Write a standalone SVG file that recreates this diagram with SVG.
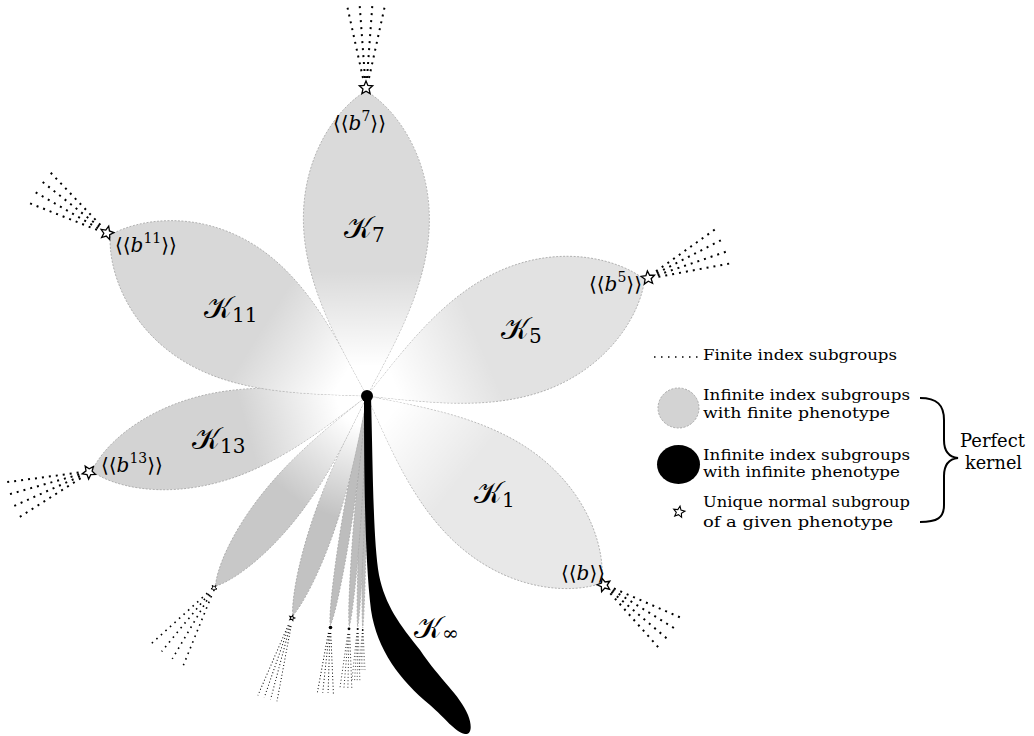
<svg xmlns="http://www.w3.org/2000/svg" width="1034" height="736" viewBox="0 0 1034 736">
<style>
.petal{stroke:#a8a8a8;stroke-width:0.8;stroke-dasharray:2 1.5}
.fade{fill:url(#fade)}
.dots{fill:none;stroke:#000;stroke-width:2;stroke-dasharray:2 5}
.fdots{fill:none;stroke:#000;stroke-width:1;stroke-dasharray:1 2.3}
.star{fill:#fff;stroke:#000;stroke-width:1.3;stroke-linejoin:miter}
.K{font-family:"DejaVu Serif","DejaVu Sans",serif;font-size:30px;fill:#000}
.sub{font-family:"DejaVu Serif",serif;font-size:20px}
.lab{font-family:"DejaVu Serif","DejaVu Sans",serif;font-size:20px;fill:#000}
.leg{font-family:"DejaVu Serif",serif;font-size:14.5px;fill:#000}
.big{font-family:"DejaVu Serif",serif;font-size:19px;fill:#000}
</style>
<defs>
<linearGradient id="fade" gradientUnits="userSpaceOnUse" x1="30" y1="0" x2="125" y2="0">
<stop offset="0" stop-color="#fff" stop-opacity="1"/>
<stop offset="1" stop-color="#fff" stop-opacity="0"/>
</linearGradient>
<path id="starp" d="M0,-7 L1.88,-2.59 L6.66,-2.16 L3.04,0.99 L4.11,5.66 L0,3.2 L-4.11,5.66 L-3.04,0.99 L-6.66,-2.16 L-1.88,-2.59 Z"/>
</defs>

<g id="fans">
<path class="dots" transform="translate(366,88) rotate(-90)" d="M10,-3 L85,-19.5 M10,-1 L85,-6.5 M10,1 L85,6.5 M10,3 L85,19.5"/>
<path class="dots" transform="translate(107,233) rotate(-146)" d="M10,-3 L85,-19.5 M10,-1 L85,-6.5 M10,1 L85,6.5 M10,3 L85,19.5"/>
<path class="dots" transform="translate(89,472) rotate(160)" d="M10,-3 L85,-19.5 M10,-1 L85,-6.5 M10,1 L85,6.5 M10,3 L85,19.5"/>
<path class="dots" transform="translate(648,278) rotate(-23)" d="M10,-3 L85,-19.5 M10,-1 L85,-6.5 M10,1 L85,6.5 M10,3 L85,19.5"/>
<path class="dots" transform="translate(604,585) rotate(36)" d="M10,-3 L85,-19.5 M10,-1 L85,-6.5 M10,1 L85,6.5 M10,3 L85,19.5"/>
<path class="dots" style="stroke-width:1.6;stroke-dasharray:1.6 4.5" transform="translate(214,588) rotate(125)" d="M8,-2.5 L82,-19.5 M8,-0.8 L82,-6.5 M8,0.8 L82,6.5 M8,2.5 L82,19.5"/>
<path class="fdots" transform="translate(292,618) rotate(107)" d="M8,-1.5 L84,-10 M8,-0.5 L84,-3.3 M8,0.5 L84,3.3 M8,1.5 L84,10"/>
<path class="fdots" transform="translate(330,627) rotate(94)" d="M6,-1.2 L66,-8 M6,-0.4 L66,-2.7 M6,0.4 L66,2.7 M6,1.2 L66,8"/>
<path class="fdots" style="stroke-width:0.8" transform="translate(349,629) rotate(93)" d="M5,-1 L60,-6 M5,-0.3 L60,-2 M5,0.3 L60,2 M5,1 L60,6"/>
<path class="fdots" style="stroke-width:0.7" transform="translate(357.7,629) rotate(92)" d="M4,-0.7 L52,-4 M4,-0.2 L52,-1.3 M4,0.2 L52,1.3 M4,0.7 L52,4"/>
<path class="fdots" style="stroke-width:0.6" transform="translate(362.7,630) rotate(91)" d="M3,-0.5 L40,-3 M3,-0.2 L40,-1 M3,0.2 L40,1 M3,0.5 L40,3"/>
</g>

<g id="slivers" transform="translate(367,396)">
<g transform="rotate(91.05)"><path class="petal" fill="#bdbdbd" d="M0,0 C37.1,0.7 83.5,1.8 134.6,1.8 C185.6,1.8 225,1 232,0 C225,-1 185.6,-1.8 134.6,-1.8 C83.5,-1.8 37.1,-0.7 0,0Z"/></g>
<g transform="rotate(92.3)"><path class="petal" fill="#bdbdbd" d="M0,0 C37,1 83.2,2.5 134,2.5 C184.8,2.5 224.1,1.4 231,0 C224.1,-1.4 184.8,-2.5 134,-2.5 C83.2,-2.5 37,-1 0,0Z"/></g>
<g transform="rotate(94.4)"><path class="petal" fill="#bdbdbd" d="M0,0 C37,1.4 83.2,3.5 134,3.5 C184.8,3.5 224.1,1.9 231,0 C224.1,-1.9 184.8,-3.5 134,-3.5 C83.2,-3.5 37,-1.4 0,0Z"/></g>
<g transform="rotate(99.1)"><path class="petal" fill="#bdbdbd" d="M0,0 C37.1,2 83.5,5 134.6,5 C185.6,5 225,2.75 232,0 C225,-2.75 185.6,-5 134.6,-5 C83.5,-5 37.1,-2 0,0Z"/></g>
</g>

<g id="petal7" transform="translate(367,396) rotate(108.67)">
<path class="petal" fill="#c2c2c2" d="M0,0 C37.1,4.8 83.5,12 134.6,12 C185.6,12 220.4,5 232,0 C220.4,-5 185.6,-12 134.6,-12 C83.5,-12 37.1,-4.8 0,0Z"/>
<path class="fade" d="M0,0 C37.1,4.8 83.5,12 134.6,12 C185.6,12 220.4,5 232,0 C220.4,-5 185.6,-12 134.6,-12 C83.5,-12 37.1,-4.8 0,0Z"/>
</g>

<g id="petal6" transform="translate(367,396) rotate(128.55)">
<path class="petal" fill="#c8c8c8" d="M0,0 C38.9,8.4 87.5,21 140.9,21 C194.4,21 230.9,8.8 243,0 C230.9,-8.8 194.4,-21 140.9,-21 C87.5,-21 38.9,-8.4 0,0Z"/>
<path class="fade" d="M0,0 C38.9,8.4 87.5,21 140.9,21 C194.4,21 230.9,8.8 243,0 C230.9,-8.8 194.4,-21 140.9,-21 C87.5,-21 38.9,-8.4 0,0Z"/>
</g>

<g id="K13" transform="translate(367,396) rotate(164.7)">
<path class="petal" fill="#d3d3d3" d="M0,0 C45.6,17.6 102.6,44 165.3,44 C228,44 270.8,18.5 285,0 C270.8,-18.5 228,-44 165.3,-44 C102.6,-44 45.6,-17.6 0,0Z"/>
<path class="fade" d="M0,0 C45.6,17.6 102.6,44 165.3,44 C228,44 270.8,18.5 285,0 C270.8,-18.5 228,-44 165.3,-44 C102.6,-44 45.6,-17.6 0,0Z"/>
</g>

<g id="K11" transform="translate(367,396) rotate(-147.9)">
<path class="petal" fill="#d8d8d8" d="M0,0 C48.5,27.2 109.1,68 175.7,68 C242.4,68 287.9,28.6 303,0 C287.9,-28.6 242.4,-68 175.7,-68 C109.1,-68 48.5,-27.2 0,0Z"/>
<path class="fade" d="M0,0 C48.5,27.2 109.1,68 175.7,68 C242.4,68 287.9,28.6 303,0 C287.9,-28.6 242.4,-68 175.7,-68 C109.1,-68 48.5,-27.2 0,0Z"/>
</g>

<g id="K7" transform="translate(367,396) rotate(-90.2)">
<path class="petal" fill="#dadada" d="M0,0 C48.8,25.2 109.8,63 176.9,63 C244,63 289.8,26.5 305,0 C289.8,-26.5 244,-63 176.9,-63 C109.8,-63 48.8,-25.2 0,0Z"/>
<path class="fade" d="M0,0 C48.8,25.2 109.8,63 176.9,63 C244,63 289.8,26.5 305,0 C289.8,-26.5 244,-63 176.9,-63 C109.8,-63 48.8,-25.2 0,0Z"/>
</g>

<g id="K5" transform="translate(367,396) rotate(-22.78)">
<path class="petal" fill="#e2e2e2" d="M0,0 C48.2,25.6 108.4,64 174.6,64 C240.8,64 286,26.9 301,0 C286,-26.9 240.8,-64 174.6,-64 C108.4,-64 48.2,-25.6 0,0Z"/>
<path class="fade" d="M0,0 C48.2,25.6 108.4,64 174.6,64 C240.8,64 286,26.9 301,0 C286,-26.9 240.8,-64 174.6,-64 C108.4,-64 48.2,-25.6 0,0Z"/>
</g>

<g id="K1" transform="translate(367,396) rotate(38.57)">
<path class="petal" fill="#e8e8e8" d="M0,0 C48,24 108,60 174,60 C240,60 285,25.2 300,0 C285,-25.2 240,-60 174,-60 C108,-60 48,-24 0,0Z"/>
<path class="fade" d="M0,0 C48,24 108,60 174,60 C240,60 285,25.2 300,0 C285,-25.2 240,-60 174,-60 C108,-60 48,-24 0,0Z"/>
</g>

<g id="Kinf">
<path fill="#000" d="M364,396 C364,480 365,560 371,610 C377,650 400,680 430,705 C445,718 455,732 465,734 C472,735 472,725 468,715 C460,695 440,680 420,650 C400,625 385,605 379,575 C373,540 373,470 371,396 Z"/>
</g>

<g id="center"><circle cx="367" cy="396" r="6" fill="#000"/></g>

<g id="stars">
<use href="#starp" class="star" transform="translate(366,88)"/>
<use href="#starp" class="star" transform="translate(107,233) rotate(-58)"/>
<use href="#starp" class="star" transform="translate(89,472) rotate(-105)"/>
<use href="#starp" class="star" transform="translate(648,278) rotate(67)"/>
<use href="#starp" class="star" transform="translate(604,585) rotate(128)"/>
<use href="#starp" class="star" style="stroke-width:2" transform="translate(214,588) rotate(38) scale(0.45)"/>
<use href="#starp" class="star" style="stroke-width:2.5" transform="translate(292,618) rotate(18) scale(0.4)"/>
<circle cx="330.5" cy="627.5" r="1.8" fill="#000"/>
<circle cx="349" cy="628.8" r="1.4" fill="#000"/>
<circle cx="357.7" cy="629" r="1.1" fill="#000"/>
<circle cx="362.7" cy="630" r="0.9" fill="#000"/>
</g>

<g id="labels">
<text class="K" x="344" y="238">&#x1D4A6;<tspan class="sub" dy="4">7</tspan></text>
<text class="K" x="204" y="318">&#x1D4A6;<tspan class="sub" dy="4">11</tspan></text>
<text class="K" x="192" y="449">&#x1D4A6;<tspan class="sub" dy="4">13</tspan></text>
<text class="K" x="501" y="339">&#x1D4A6;<tspan class="sub" dy="4">5</tspan></text>
<text class="K" x="474" y="503">&#x1D4A6;<tspan class="sub" dy="4">1</tspan></text>
<text class="K" x="414" y="638">&#x1D4A6;<tspan class="sub" dy="2">∞</tspan></text>
<text class="lab" x="333" y="130">⟨⟨<tspan font-style="italic">b</tspan><tspan font-size="14" dy="-9">7</tspan><tspan dy="9">⟩⟩</tspan></text>
<text class="lab" x="115" y="252">⟨⟨<tspan font-style="italic">b</tspan><tspan font-size="14" dy="-9">11</tspan><tspan dy="9">⟩⟩</tspan></text>
<text class="lab" x="101" y="472">⟨⟨<tspan font-style="italic">b</tspan><tspan font-size="14" dy="-9">13</tspan><tspan dy="9">⟩⟩</tspan></text>
<text class="lab" x="589" y="291">⟨⟨<tspan font-style="italic">b</tspan><tspan font-size="14" dy="-9">5</tspan><tspan dy="9">⟩⟩</tspan></text>
<text class="lab" x="561" y="580">⟨⟨<tspan font-style="italic">b</tspan>⟩⟩</text>
</g>

<g id="legend">
<path class="dots" style="stroke-width:1.5;stroke-dasharray:1.5 5.5" d="M654,357 L701,357"/>
<text class="leg" x="703" y="360" textLength="194" lengthAdjust="spacingAndGlyphs">Finite index subgroups</text>
<ellipse cx="678.5" cy="408" rx="20.5" ry="20" fill="#d3d3d3" stroke="#aaa" stroke-width="1" stroke-dasharray="2 1.5"/>
<text class="leg" x="703" y="400" textLength="207" lengthAdjust="spacingAndGlyphs">Infinite index subgroups</text>
<text class="leg" x="703" y="418" textLength="187" lengthAdjust="spacingAndGlyphs">with finite phenotype</text>
<ellipse cx="678.5" cy="464.5" rx="21.5" ry="19.5" fill="#000"/>
<text class="leg" x="703" y="460" textLength="207" lengthAdjust="spacingAndGlyphs">Infinite index subgroups</text>
<text class="leg" x="703" y="477" textLength="197" lengthAdjust="spacingAndGlyphs">with infinite phenotype</text>
<use href="#starp" class="star" transform="translate(679,512) rotate(10) scale(0.85)"/>
<text class="leg" x="703" y="507" textLength="207" lengthAdjust="spacingAndGlyphs">Unique normal subgroup</text>
<text class="leg" x="703" y="527" textLength="190" lengthAdjust="spacingAndGlyphs">of a given phenotype</text>
<path d="M920,398 C937,398 944,405 944,420 L944,440 C944,452 949,457 958,458 C949,459 944,464 944,476 L944,505 C944,518 937,522 920,522" fill="none" stroke="#000" stroke-width="2"/>
<text class="big" x="960" y="447" textLength="65" lengthAdjust="spacingAndGlyphs">Perfect</text>
<text class="big" x="965" y="469" textLength="57" lengthAdjust="spacingAndGlyphs">kernel</text>
</g>
</svg>
